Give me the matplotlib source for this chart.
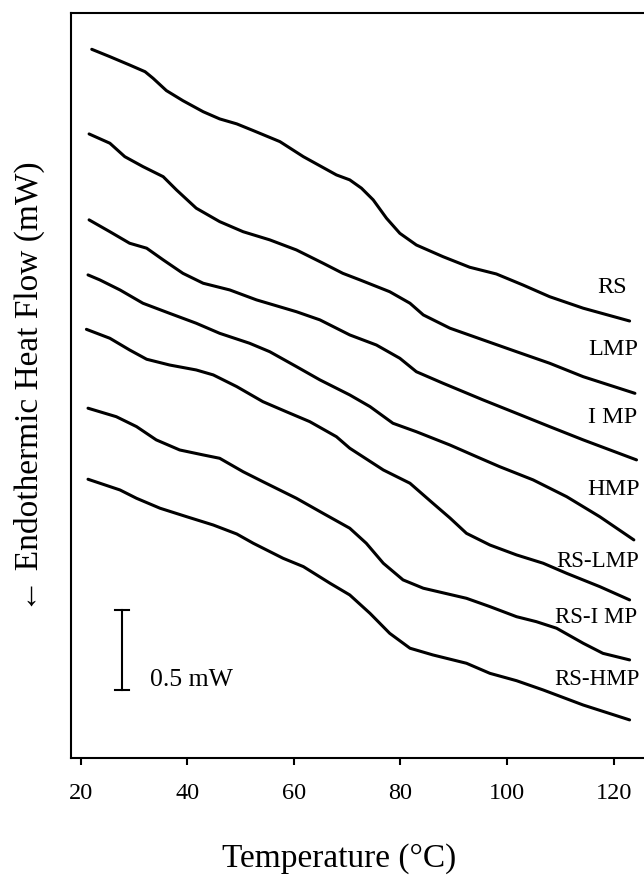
import matplotlib
matplotlib.use("Agg")
import matplotlib.pyplot as plt

plt.rcParams["font.family"] = ["Liberation Serif", "DejaVu Serif"]

# DSC traces, temperature (C) vs heat flow (mW, offset per sample)
rs_t = [22.1, 25.5, 29.2, 32.1, 33.6, 36.1, 39.2, 43.0, 46.1, 49.3, 52.4, 57.4, 61.8, 68.0,
        70.5, 72.7, 74.9, 77.4, 79.9, 83.0, 88.0, 93.0, 98.0, 103.0, 108.0, 114.3, 123.0]
rs_v = [4.429, 4.383, 4.331, 4.289, 4.248, 4.171, 4.108, 4.039, 3.994, 3.963, 3.921, 3.852,
        3.758, 3.644, 3.613, 3.561, 3.488, 3.373, 3.279, 3.206, 3.133, 3.067, 3.025, 2.956,
        2.883, 2.811, 2.731]

lmp_t = [21.6, 25.5, 28.3, 31.7, 35.5, 38.0, 41.7, 46.1, 50.5, 55.5, 60.5, 65.5, 69.2, 72.4,
         78.0, 81.8, 84.3, 89.3, 95.5, 101.8, 108.0, 114.3, 124.0]
lmp_v = [3.900, 3.842, 3.758, 3.696, 3.633, 3.550, 3.436, 3.352, 3.289, 3.238, 3.175, 3.092,
         3.029, 2.988, 2.914, 2.842, 2.769, 2.686, 2.613, 2.539, 2.467, 2.383, 2.279]

imp_t = [21.6, 25.5, 29.2, 32.4, 35.5, 39.2, 43.0, 48.0, 53.0, 60.5, 64.9, 70.5, 75.5, 79.9,
         83.0, 88.0, 95.5, 101.8, 108.0, 114.3, 124.3]
imp_v = [3.363, 3.289, 3.217, 3.186, 3.113, 3.029, 2.967, 2.925, 2.863, 2.789, 2.738, 2.644,
         2.581, 2.498, 2.414, 2.342, 2.238, 2.154, 2.071, 1.988, 1.863]

hmp_t = [21.4, 23.6, 27.4, 31.7, 36.7, 41.7, 46.1, 51.7, 55.5, 60.5, 64.9, 70.5, 74.3, 78.6,
         83.0, 89.3, 94.3, 98.6, 104.9, 111.2, 117.4, 123.8]
hmp_v = [3.019, 2.988, 2.925, 2.842, 2.779, 2.717, 2.654, 2.592, 2.539, 2.446, 2.363, 2.269,
         2.196, 2.092, 2.039, 1.956, 1.883, 1.821, 1.738, 1.633, 1.508, 1.363]

rs_lmp_t = [21.1, 25.5, 29.2, 32.4, 36.7, 41.7, 44.9, 49.3, 54.2, 58.6, 63.0, 68.0, 70.5, 76.8,
            81.8, 86.1, 89.3, 92.4, 96.8, 101.8, 106.8, 111.2, 117.4, 123.0]
rs_lmp_v = [2.679, 2.623, 2.550, 2.492, 2.456, 2.425, 2.394, 2.321, 2.227, 2.164, 2.102, 2.008,
            1.936, 1.800, 1.717, 1.592, 1.500, 1.404, 1.331, 1.269, 1.217, 1.154, 1.071, 0.988]

rs_imp_t = [21.4, 26.7, 30.5, 34.2, 38.6, 43.0, 46.1, 50.5, 54.2, 60.5, 65.5, 70.5, 73.6, 76.8,
            80.5, 84.3, 92.4, 96.8, 101.8, 105.5, 109.3, 114.3, 118.0, 123.0]
rs_imp_v = [2.186, 2.133, 2.071, 1.988, 1.925, 1.894, 1.873, 1.789, 1.727, 1.623, 1.529, 1.436,
            1.342, 1.217, 1.113, 1.061, 0.998, 0.946, 0.883, 0.852, 0.811, 0.717, 0.654, 0.613]

rs_hmp_t = [21.4, 27.4, 30.5, 34.9, 39.9, 44.9, 49.3, 52.4, 58.0, 61.8, 66.8, 70.5, 74.3, 78.0,
            81.8, 86.1, 92.4, 96.8, 101.8, 106.8, 114.3, 123.0]
rs_hmp_v = [1.742, 1.675, 1.623, 1.561, 1.508, 1.456, 1.400, 1.342, 1.248, 1.196, 1.092, 1.019,
            0.904, 0.779, 0.686, 0.644, 0.592, 0.529, 0.483, 0.425, 0.331, 0.238]

labels = ["RS", "LMP", "I MP", "HMP", "RS-LMP", "RS-I MP", "RS-HMP"]
label_x = [117.0, 115.3, 115.2, 115.0, 109.3, 109.1, 108.9]
label_y = [2.938, 2.550, 2.125, 1.675, 1.225, 0.881, 0.488]
label_size = [17.5, 17.5, 17.5, 17.5, 16.5, 16.5, 16.5]

x_ticks = [20, 40, 60, 80, 100, 120]

fig = plt.figure(figsize=(6.44, 8.77), dpi=100)
ax = fig.add_axes([0.1102, 0.1357, 0.9146, 0.8495])

curves = [(rs_t, rs_v), (lmp_t, lmp_v), (imp_t, imp_v), (hmp_t, hmp_v),
          (rs_lmp_t, rs_lmp_v), (rs_imp_t, rs_imp_v), (rs_hmp_t, rs_hmp_v)]
for t, v in curves:
    ax.plot(t, v, color="black", lw=2.2, solid_capstyle="round", solid_joinstyle="round")

for name, lx, ly, fs in zip(labels, label_x, label_y, label_size):
    ax.text(lx, ly, name, fontsize=fs, ha="left", va="center")

# 0.5 mW scale bar
ax.plot([27.7, 27.7], [0.425, 0.925], color="black", lw=1.5)
ax.plot([26.4, 29.0], [0.425, 0.425], color="black", lw=1.5)
ax.plot([26.4, 29.0], [0.925, 0.925], color="black", lw=1.5)
ax.text(33.0, 0.45, "0.5 mW", fontsize=18.5, ha="left", va="baseline")

ax.set_xlim(18.2, 128.7)
ax.set_ylim(0, 4.656)
ax.set_xticks(x_ticks)
ax.set_xticklabels([str(t) for t in x_ticks], fontsize=17.5)
ax.set_yticks([])
ax.tick_params(axis="x", direction="out", length=5, width=1.5, pad=13)
for s in ax.spines.values():
    s.set_linewidth(1.5)

fig.text(0.045, 0.559, "\u2190 Endothermic Heat Flow (mW)", rotation=90,
         fontsize=24, ha="center", va="center")
fig.text(0.526, 0.021, "Temperature (\u00b0C)", fontsize=24, ha="center", va="center")

fig.savefig("out.png", dpi=100)
